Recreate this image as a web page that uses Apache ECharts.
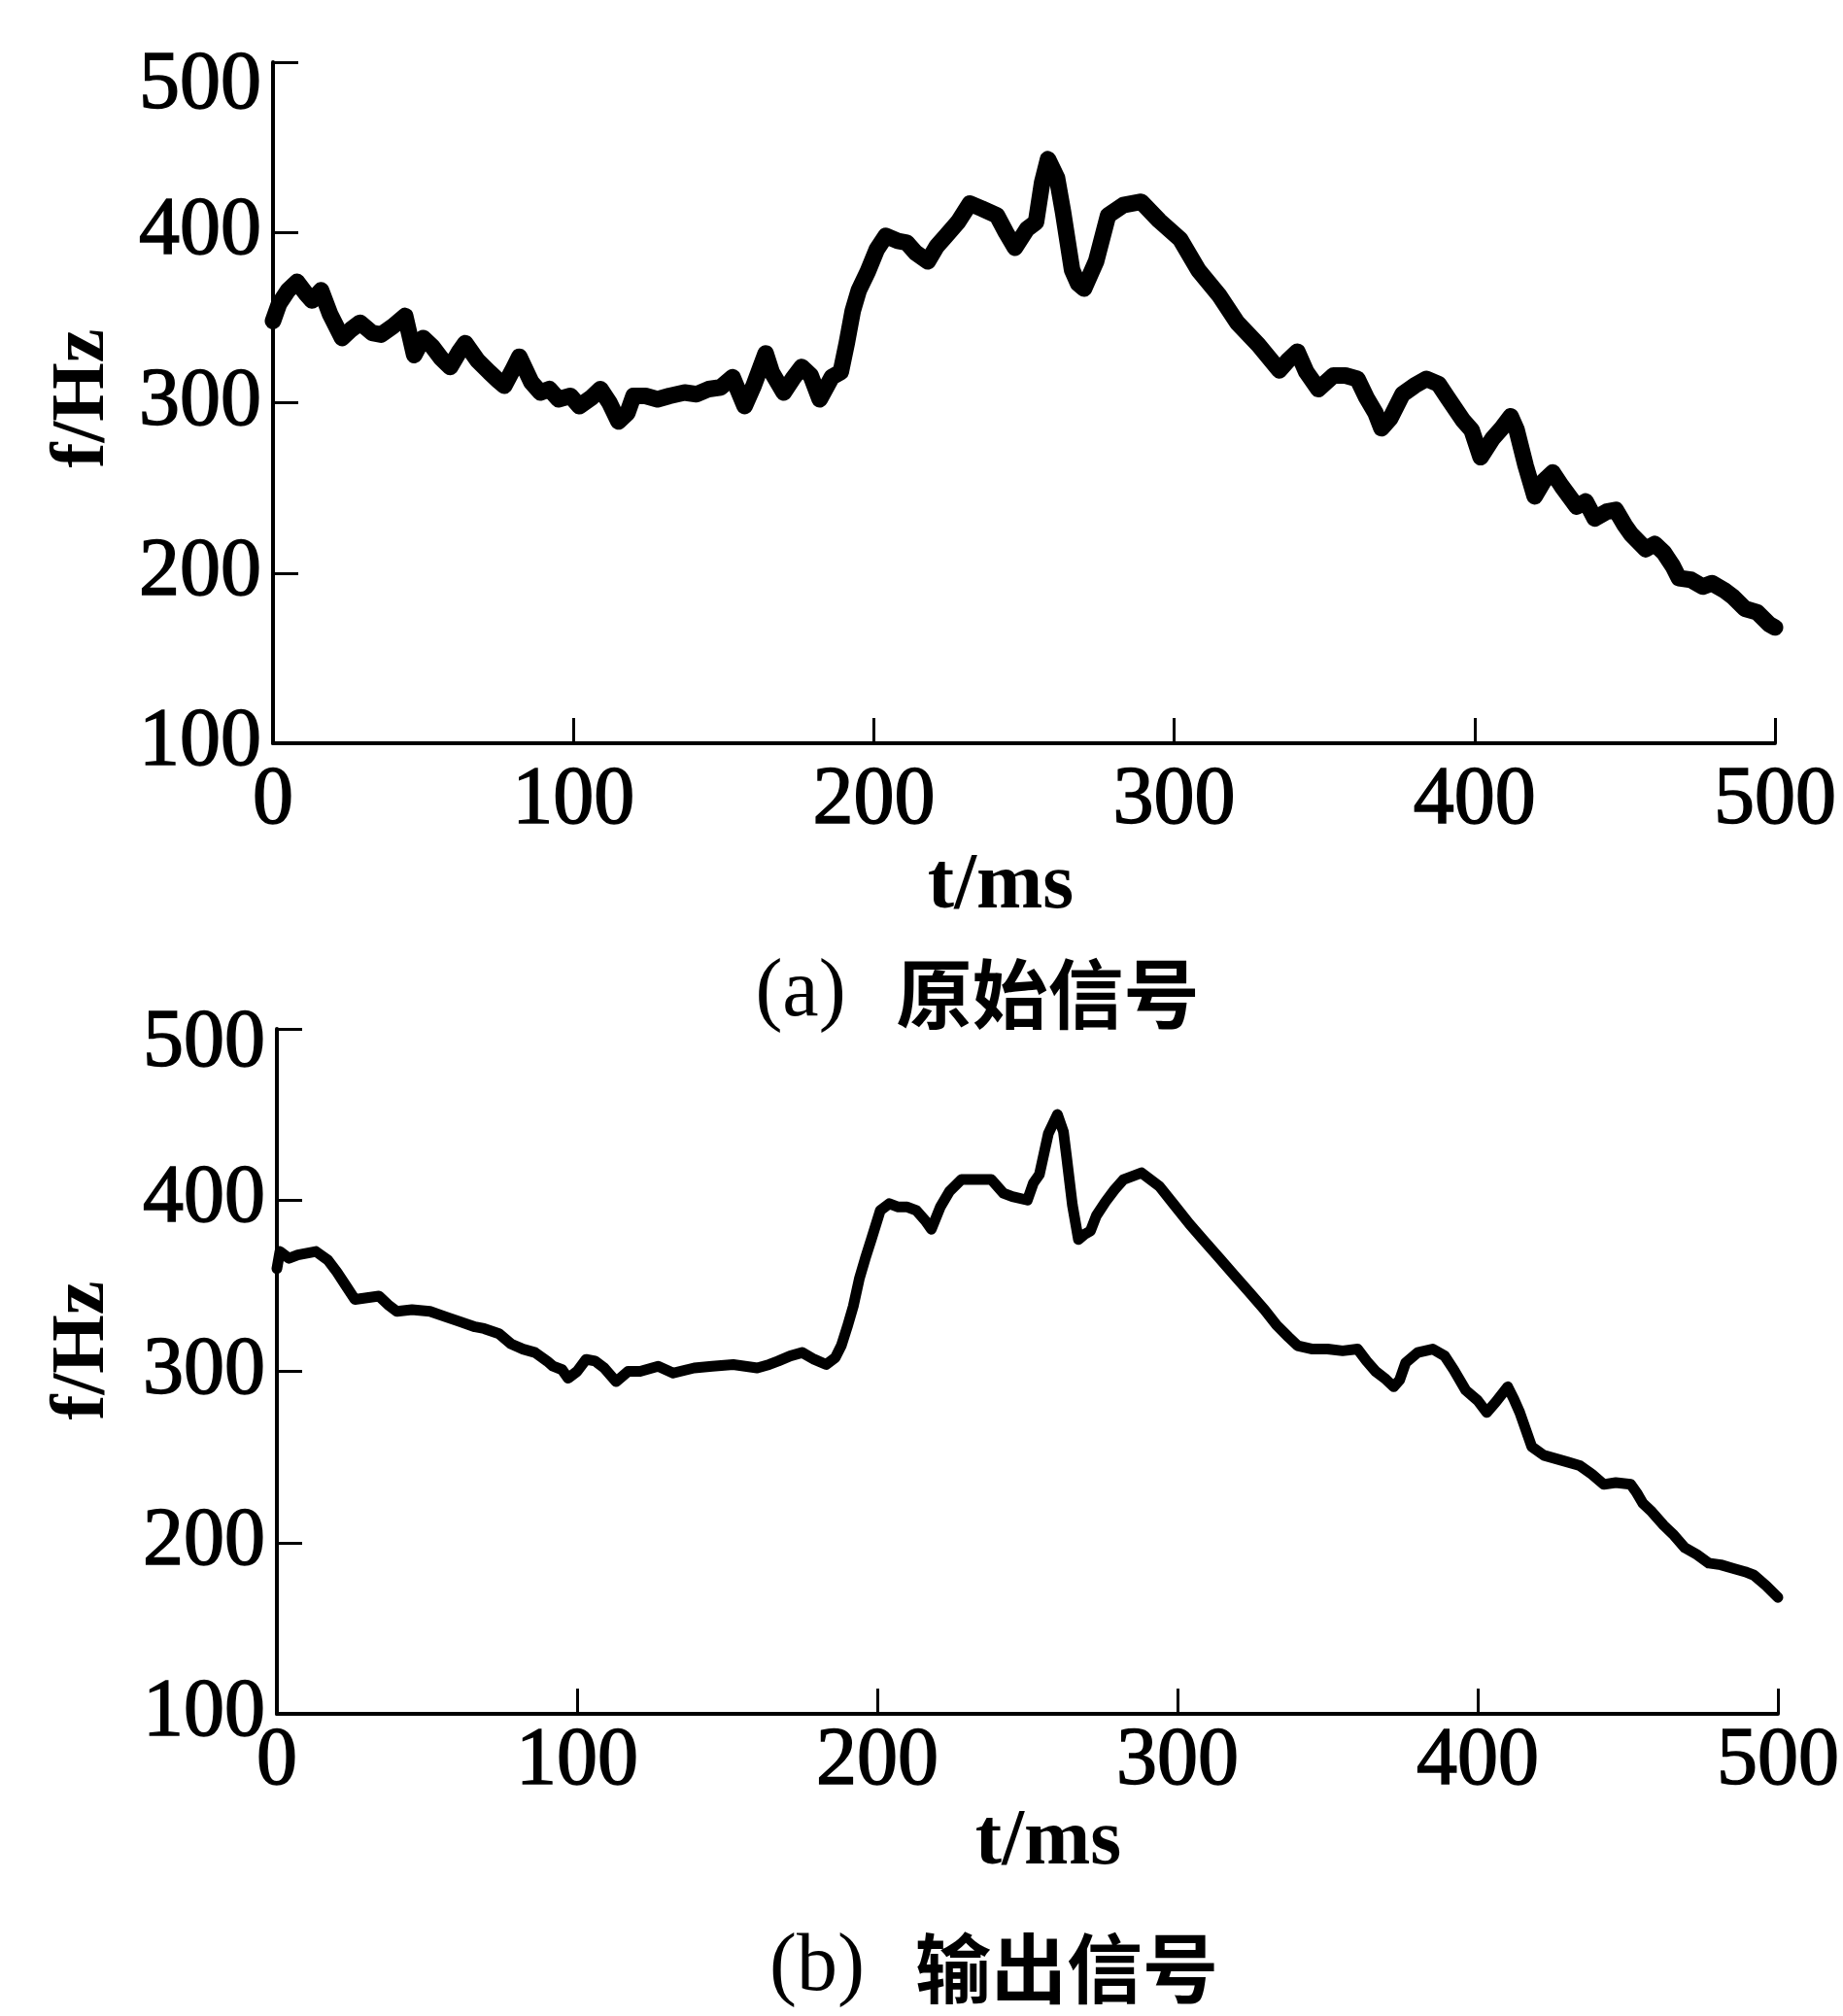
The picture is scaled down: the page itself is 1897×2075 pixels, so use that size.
<!DOCTYPE html>
<html>
<head>
<meta charset="utf-8">
<script src="https://cdn.jsdelivr.net/npm/echarts@6/dist/echarts.min.js"></script>
<style>
html,body{margin:0;padding:0;background:#fff;}
#chart{width:1897px;height:2075px;}
</style>
</head>
<body>
<div id="chart"></div>
<script>
// ---- data ----
var xTicks = [0, 100, 200, 300, 400, 500];
var yTicks = [100, 200, 300, 400, 500];

// (a) original signal
var timeA = [0, 2, 5, 8, 11, 13, 16, 19, 23, 26, 29, 33, 36, 40, 44, 47, 50, 53, 56, 59, 62, 64, 68, 72, 75, 77, 80, 82, 86, 89, 92, 95, 99, 102, 106, 109, 112, 115, 118, 120, 124, 128, 132, 137, 141, 145, 149, 153, 157, 160, 164, 166, 170, 173, 176, 179, 182, 186, 189, 191, 193, 195, 198, 201, 204, 208, 211, 214, 218, 221, 224, 228, 232, 236, 241, 244, 247, 251, 254, 256, 258, 261, 263, 266, 268, 270, 274, 278, 283, 289, 295, 302, 308, 315, 321, 328, 335, 338, 341, 344, 348, 353, 357, 361, 364, 367, 369, 372, 376, 380, 384, 388, 391, 396, 399, 402, 406, 409, 412, 414, 417, 420, 423, 426, 429, 434, 437, 440, 444, 447, 450, 452, 457, 460, 463, 466, 468, 472, 476, 479, 483, 486, 490, 494, 498, 500];
var freqA = [348, 358, 366, 371, 364, 360, 366, 352, 338, 343, 347, 341, 340, 345, 351, 328, 338, 333, 326, 321, 330, 335, 325, 318, 313, 310, 320, 327, 312, 306, 308, 302, 304, 298, 303, 308, 300, 289, 294, 304, 304, 302, 304, 306, 305, 308, 309, 315, 298, 310, 329, 318, 306, 314, 321, 316, 302, 315, 318, 335, 354, 366, 377, 390, 398, 395, 394, 388, 383, 392, 398, 406, 417, 414, 410, 400, 391, 402, 406, 429, 443, 432, 412, 378, 370, 367, 383, 410, 416, 418, 407, 396, 378, 363, 347, 334, 319, 325, 330, 318, 308, 316, 316, 314, 303, 294, 285, 291, 305, 310, 314, 311, 303, 290, 284, 268, 279, 285, 292, 284, 263, 245, 254, 259, 251, 239, 242, 232, 236, 237, 228, 223, 214, 217, 212, 204, 197, 196, 192, 194, 190, 186, 179, 177, 170, 168];

// (b) output signal
var timeB = [0, 1, 4, 7, 10, 13, 17, 20, 23, 26, 30, 34, 37, 40, 45, 51, 56, 61, 66, 69, 74, 78, 82, 86, 90, 92, 95, 97, 100, 103, 106, 109, 113, 117, 121, 127, 132, 139, 145, 152, 156, 160, 164, 167, 171, 175, 179, 183, 186, 188, 190, 192, 194, 196, 198, 201, 204, 207, 210, 213, 216, 218, 221, 224, 228, 233, 238, 242, 245, 250, 252, 254, 257, 260, 262, 263, 265, 267, 269, 271, 273, 276, 279, 282, 285, 288, 291, 294, 299, 304, 309, 314, 319, 324, 329, 333, 337, 340, 345, 350, 355, 360, 363, 366, 369, 372, 374, 376, 380, 385, 389, 392, 396, 400, 403, 406, 410, 412, 414, 418, 422, 426, 430, 434, 438, 442, 446, 451, 453, 455, 458, 462, 465, 469, 473, 477, 481, 485, 489, 492, 496, 500];
var freqB = [360, 370, 366, 368, 369, 370, 365, 358, 350, 342, 343, 344, 339, 335, 336, 335, 332, 329, 326, 325, 322, 316, 313, 311, 306, 303, 301, 296, 300, 307, 306, 302, 294, 300, 300, 303, 299, 302, 303, 304, 303, 302, 304, 306, 309, 311, 307, 304, 308, 315, 326, 338, 354, 366, 377, 394, 398, 396, 396, 394, 388, 383, 396, 405, 412, 412, 412, 404, 402, 400, 410, 415, 439, 450, 440, 426, 397, 377, 380, 382, 391, 399, 406, 412, 414, 416, 412, 408, 397, 386, 376, 366, 356, 346, 336, 327, 320, 315, 313, 313, 312, 313, 306, 300, 296, 291, 295, 305, 311, 313, 309, 301, 289, 283, 276, 282, 291, 284, 276, 256, 251, 249, 247, 245, 240, 234, 235, 234, 229, 223, 218, 210, 205, 197, 193, 188, 187, 185, 183, 181, 175, 168];

function pairs(xs, ys) { var o = []; for (var i = 0; i < xs.length; i++) o.push([xs[i], ys[i]]); return o; }

var numFont = 'Liberation Serif';
var chart = echarts.init(document.getElementById('chart'), null, {renderer: 'canvas'});

function xAx(gi, margin) {
  return {
    type: 'value', gridIndex: gi, min: 0, max: 500, interval: 100,
    axisLine: {show: true, onZero: false, lineStyle: {color: '#000', width: 4}},
    axisTick: {show: true, inside: true, length: 26, lineStyle: {color: '#000', width: 3}},
    splitLine: {show: false},
    axisLabel: {show: true, color: '#000', fontSize: 84, fontFamily: numFont, margin: margin,
      textBorderColor: '#000', textBorderWidth: 1.5,
      formatter: function (v) { return xTicks.indexOf(v) >= 0 ? String(v) : ''; }}
  };
}
function yAx(gi, topPad) {
  return {
    type: 'value', gridIndex: gi, min: 100, max: 500, interval: 100,
    axisLine: {show: true, onZero: false, lineStyle: {color: '#000', width: 4}},
    axisTick: {show: true, inside: true, length: 26, lineStyle: {color: '#000', width: 3}},
    splitLine: {show: false},
    axisLabel: {show: true, color: '#000', fontSize: 84, fontFamily: numFont, margin: 12,
      textBorderColor: '#000', textBorderWidth: 1.5,
      formatter: function (v) {
        if (yTicks.indexOf(v) < 0) return '';
        return v === 500 ? '{t|' + v + '}' : String(v);
      },
      rich: {t: {fontSize: 84, fontFamily: numFont, color: '#000', textBorderColor: '#000', textBorderWidth: 1.5,
        padding: [topPad, 0, 0, 0]}}}
  };
}

function txt(x, y, s, size, font, rot, weight) {
  return {type: 'text', x: x, y: y, rotation: rot || 0,
    style: {text: s, fill: '#000', font: (weight || 'bold') + ' ' + size + 'px ' + font,
      textAlign: 'center', textVerticalAlign: 'middle'}};
}
function caption(x, y, tag, words) {
  return {type: 'text', x: x, y: y,
    style: {text: '{p|' + tag + '}{c|' + words + '}', textAlign: 'center', textVerticalAlign: 'middle',
      rich: {
        p: {font: 'normal 84px "Liberation Serif"', fill: '#000', padding: [0, 52, 0, 0]},
        c: {font: 'bold 78px "Noto Sans CJK SC"', fill: '#000'}
      }}};
}

chart.setOption({
  animation: false,
  backgroundColor: '#fff',
  grid: [
    {left: 281, right: 70, top: 64, height: 701},
    {left: 285, right: 67, top: 1059, height: 705}
  ],
  xAxis: [xAx(0, 18), xAx(1, 8)],
  yAxis: [yAx(0, 50), yAx(1, 32)],
  series: [
    {type: 'line', xAxisIndex: 0, yAxisIndex: 0, data: pairs(timeA, freqA), showSymbol: false, symbol: 'none',
      lineStyle: {color: '#000', width: 17, join: 'round', cap: 'round'}},
    {type: 'line', xAxisIndex: 1, yAxisIndex: 1, data: pairs(timeB, freqB), showSymbol: false, symbol: 'none',
      lineStyle: {color: '#000', width: 11, join: 'round', cap: 'round'}}
  ],
  graphic: [
    txt(1030, 913, 't/ms', 82, numFont),
    txt(1079, 1897, 't/ms', 82, numFont),
    txt(86, 410, 'f/Hz', 78, numFont, Math.PI / 2),
    txt(86, 1390, 'f/Hz', 78, numFont, Math.PI / 2),
    caption(1006, 1023, '(a)', '原始信号'),
    caption(1023, 2026, '(b)', '输出信号')
  ]
});
</script>
</body>
</html>
